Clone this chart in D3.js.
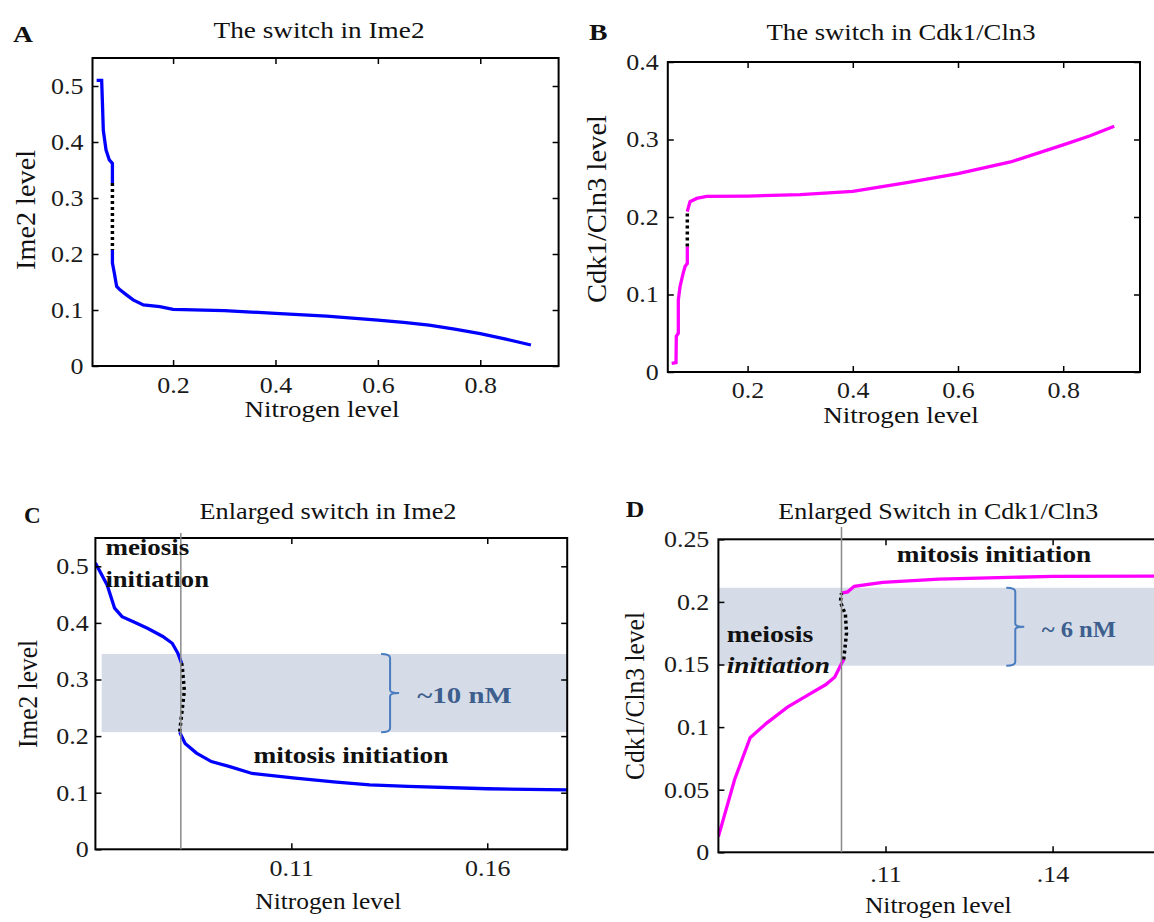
<!DOCTYPE html>
<html>
<head>
<meta charset="utf-8">
<style>
    body {
        margin: 0;
        background: white;
    }

    svg {
        display: block;
        font-family: 'Liberation Serif', 'Times New Roman', serif;
    }
</style>
</head>
<body>
<svg width="1154" height="922"></svg>

<script src="https://d3js.org/d3.v7.min.js"></script>
<script>
    // ---- data: [nitrogen, level] ----
    // A: Ime2 vs nitrogen, full range
    const ime2Meiosis = [[0.0507, 0.51], [0.0605, 0.51], [0.062, 0.47], [0.0637, 0.421], [0.069, 0.386],
        [0.0754, 0.368], [0.0815, 0.362], [0.0815, 0.327]];
    const ime2Gap = [[0.0815, 0.327], [0.0815, 0.207]];
    const ime2Mitosis = [[0.0815, 0.207], [0.0815, 0.184], [0.0852, 0.166], [0.0898, 0.142], [0.0963, 0.136],
        [0.109, 0.127], [0.122, 0.118], [0.142, 0.109], [0.174, 0.106], [0.2, 0.101], [0.3, 0.099],
        [0.4, 0.094], [0.5, 0.089], [0.6, 0.082], [0.65, 0.078], [0.7, 0.073], [0.75, 0.066],
        [0.8, 0.058], [0.85, 0.048], [0.899, 0.0375]];

    // B: Cdk1/Cln3 vs nitrogen, full range
    const cdkMeiosis = [[0.0557, 0.011], [0.0639, 0.012], [0.0645, 0.046], [0.0683, 0.05], [0.0683, 0.093],
        [0.0715, 0.11], [0.0766, 0.125], [0.081, 0.136], [0.0854, 0.14], [0.0854, 0.162]];
    const cdkGap = [[0.0854, 0.162], [0.0854, 0.207]];
    const cdkMitosis = [[0.0854, 0.207], [0.0873, 0.212], [0.0905, 0.2197], [0.1032, 0.224], [0.122, 0.2265],
        [0.2, 0.227], [0.3, 0.229], [0.4, 0.233], [0.5, 0.244], [0.6, 0.256], [0.7, 0.271],
        [0.8, 0.293], [0.85, 0.3045], [0.897, 0.317]];

    // C: enlarged Ime2 switch
    const ime2ZoomMeiosis = [[0.06, 0.506], [0.063, 0.467], [0.0649, 0.426], [0.0668, 0.411], [0.0697, 0.402],
        [0.0734, 0.39], [0.0772, 0.376], [0.0796, 0.364], [0.081, 0.347], [0.082, 0.329]];
    const ime2ZoomGap = [[0.082, 0.329], [0.0822, 0.32], [0.0827, 0.28], [0.0822, 0.25], [0.0815, 0.207]];
    const ime2ZoomMitosis = [[0.0815, 0.207], [0.0829, 0.187], [0.0858, 0.17], [0.0896, 0.155], [0.0943, 0.146],
        [0.1, 0.134], [0.1104, 0.126], [0.1208, 0.119], [0.13, 0.114], [0.1398, 0.111], [0.16, 0.107],
        [0.1805, 0.105]];

    // D: enlarged Cdk1/Cln3 switch
    const cdkZoomMeiosis = [[0.08, 0.0125], [0.0829, 0.058], [0.0857, 0.0915], [0.0886, 0.103], [0.0924, 0.116],
        [0.0962, 0.126], [0.0993, 0.134], [0.1009, 0.14], [0.1019, 0.149], [0.1025, 0.154]];
    const cdkZoomGap = [[0.1025, 0.154], [0.103, 0.175], [0.1028, 0.19], [0.1019, 0.2], [0.1021, 0.207]];
    const cdkZoomMitosis = [[0.1021, 0.207], [0.1032, 0.208], [0.1044, 0.2125], [0.1095, 0.2156],
        [0.1196, 0.2182], [0.14, 0.2204], [0.17, 0.2208]];

    // switch bands (level range) and switch point (nitrogen)
    const bandC = [0.207, 0.345];
    const bandD = [0.149, 0.2113];
    const switchC = 0.0818;
    const switchD = 0.1021;

    // ticks
    const fullXTicks = [0.2, 0.4, 0.6, 0.8];
    const ime2YTicks = [0, 0.1, 0.2, 0.3, 0.4, 0.5];
    const cdkYTicks = [0, 0.1, 0.2, 0.3, 0.4];
    const zoomCXTicks = [0.11, 0.16];
    const zoomDXTicks = [0.11, 0.14];
    const zoomDYTicks = [0, 0.05, 0.1, 0.15, 0.2, 0.25];

    const SX = 1.13;   // the figure's text is a bit wider than Times
    const svg = d3.select("svg");

    function label(g, x, y, str, opt) {
        let t = g.append("text")
            .attr("x", x)
            .attr("y", y)
            .attr("text-anchor", opt.anchor || "start")
            .attr("font-size", opt.size || 24)
            .attr("fill", opt.fill || "#111")
            .text(str);
        if (opt.bold) t.attr("font-weight", "bold");
        if (opt.italic) t.attr("font-style", "italic");
        if (opt.len) t.attr("textLength", opt.len).attr("lengthAdjust", "spacingAndGlyphs");
        return t;
    }

    function yLabel(g, x, y, str, len) {
        g.append("text")
            .attr("transform", `translate(${x},${y}) rotate(-90)`)
            .attr("text-anchor", "middle")
            .attr("font-size", 27)
            .attr("fill", "#111")
            .attr("textLength", len)
            .attr("lengthAdjust", "spacingAndGlyphs")
            .text(str);
    }

    function panel(o) {
        const x = d3.scaleLinear().domain(o.xDomain).range([o.left, o.right]);
        const y = d3.scaleLinear().domain(o.yDomain).range([o.bottom, o.top]);
        const g = svg.append("g");
        const clipId = "clip-" + o.id;
        g.append("clipPath").attr("id", clipId)
            .append("rect")
            .attr("x", o.left).attr("y", o.top)
            .attr("width", o.right - o.left).attr("height", o.bottom - o.top);
        const plot = g.append("g").attr("clip-path", `url(#${clipId})`);
        return { g, plot, x, y, o };
    }

    function axes(p, xt, yt, xfmt, yfmt, padX, padY) {
        const { g, x, y, o } = p;
        let ax = [
            g.append("g").attr("transform", `translate(0,${o.bottom})`)
                .call(d3.axisBottom(x).tickValues(xt).tickSize(-6).tickPadding(padX).tickFormat(xfmt)),
            g.append("g").attr("transform", `translate(0,${o.top})`)
                .call(d3.axisTop(x).tickValues(xt).tickSize(-6).tickFormat("")),
            g.append("g").attr("transform", `translate(${o.left},0)`)
                .call(d3.axisLeft(y).tickValues(yt).tickSize(-6).tickPadding(padY).tickFormat(yfmt)),
            g.append("g").attr("transform", `translate(${o.right},0)`)
                .call(d3.axisRight(y).tickValues(yt).tickSize(-6).tickFormat(""))
        ];
        ax.forEach(a => {
            a.select(".domain").remove();
            a.attr("font-family", null).attr("font-size", 23);
            a.selectAll("line").attr("stroke", "#000").attr("stroke-width", 1.5);
            a.selectAll("text").attr("fill", "#1a1a1a").attr("transform", `scale(${SX},1)`);
        });
        g.append("rect")
            .attr("x", o.left).attr("y", o.top)
            .attr("width", o.right - o.left).attr("height", o.bottom - o.top)
            .attr("fill", "none").attr("stroke", "#000").attr("stroke-width", 2);
    }

    function curve(p, pts, color, dotted) {
        const line = d3.line().x(d => p.x(d[0])).y(d => p.y(d[1]));
        p.plot.append("path")
            .datum(pts)
            .attr("d", line)
            .attr("fill", "none")
            .attr("stroke", color)
            .attr("stroke-width", dotted ? 3.5 : 3.3)
            .attr("stroke-dasharray", dotted ? "3 3" : null)
            .attr("stroke-linejoin", "miter");
    }

    function band(p, x0, x1, range) {
        p.plot.append("rect")
            .attr("x", p.x(x0)).attr("y", p.y(range[1]))
            .attr("width", p.x(x1) - p.x(x0))
            .attr("height", p.y(range[0]) - p.y(range[1]))
            .attr("fill", "#d5dce7");
    }

    function brace(p, xv, range) {
        const bx = p.x(xv), top = p.y(range[1]), bot = p.y(range[0]), mid = (top + bot) / 2;
        p.g.append("path")
            .attr("d", `M${bx - 9},${top} Q${bx},${top} ${bx},${top + 4} V${mid - 3} Q${bx},${mid} ${bx + 9},${mid}` +
                ` M${bx + 9},${mid} Q${bx},${mid} ${bx},${mid + 3} V${bot - 4} Q${bx},${bot} ${bx - 9},${bot}`)
            .attr("fill", "none")
            .attr("stroke", "#4a7cc0")
            .attr("stroke-width", 2);
    }

    function switchLine(p, xv, yTop) {
        p.g.append("line")
            .attr("x1", p.x(xv)).attr("x2", p.x(xv))
            .attr("y1", yTop).attr("y2", p.o.bottom)
            .attr("stroke", "#8a8a8a").attr("stroke-width", 1.5);
    }

    const num = d => d === 0 ? "0" : String(d);

    // ---------- A ----------
    const pA = panel({ id: "a", left: 92.5, right: 558.6, top: 58, bottom: 366, xDomain: [0.0426, 0.953], yDomain: [0, 0.55] });
    curve(pA, ime2Meiosis, "#0000ff");
    curve(pA, ime2Mitosis, "#0000ff");
    curve(pA, ime2Gap, "#000", true);
    axes(pA, fullXTicks, ime2YTicks, num, num, 10.5, 8);
    label(pA.g, 13, 41.7, "A", { bold: true, len: 20 });
    label(pA.g, 319, 38, "The switch in Ime2", { anchor: "middle", len: 211 });
    label(pA.g, 322, 416.7, "Nitrogen level", { anchor: "middle", len: 155 });
    yLabel(pA.g, 35, 210, "Ime2 level", 120);

    // ---------- B ----------
    const pB = panel({ id: "b", left: 667.8, right: 1140, top: 62, bottom: 372, xDomain: [0.0483, 0.946], yDomain: [0, 0.4] });
    curve(pB, cdkMeiosis, "#ff00ff");
    curve(pB, cdkMitosis, "#ff00ff");
    curve(pB, cdkGap, "#000", true);
    axes(pB, fullXTicks, cdkYTicks, num, num, 10, 8);
    label(pB.g, 589, 40, "B", { bold: true, len: 18.5 });
    label(pB.g, 901, 39.5, "The switch in Cdk1/Cln3", { anchor: "middle", len: 269 });
    label(pB.g, 901, 423, "Nitrogen level", { anchor: "middle", len: 155.5 });
    yLabel(pB.g, 606, 209, "Cdk1/Cln3 level", 188);

    // ---------- C ----------
    const pC = panel({ id: "c", left: 95.4, right: 567.2, top: 538, bottom: 849.3, xDomain: [0.06, 0.1804], yDomain: [0, 0.55] });
    band(pC, 0.0616, 0.1804, bandC);
    curve(pC, ime2ZoomMeiosis, "#0000ff");
    curve(pC, ime2ZoomMitosis, "#0000ff");
    curve(pC, ime2ZoomGap, "#000", true);
    axes(pC, zoomCXTicks, ime2YTicks, num, num, 10.5, 6);
    switchLine(pC, switchC, 533);
    brace(pC, 0.1352, bandC);
    label(pC.g, 24, 523.3, "C", { bold: true, len: 16.7 });
    label(pC.g, 328, 519, "Enlarged switch in Ime2", { anchor: "middle", len: 257 });
    label(pC.g, 328.3, 909, "Nitrogen level", { anchor: "middle", len: 146 });
    yLabel(pC.g, 37, 694, "Ime2 level", 108);
    label(pC.g, 105.4, 555, "meiosis", { bold: true, len: 84, fill: "#111" });
    label(pC.g, 105.4, 586.7, "initiation", { bold: true, len: 103.6, fill: "#111" });
    label(pC.g, 253.4, 762.7, "mitosis initiation", { bold: true, len: 195, fill: "#111" });
    label(pC.g, 417.3, 702.7, "~10  nM", { bold: true, len: 94.4, fill: "#3d5f8e" });

    // ---------- D ----------
    const pD = panel({ id: "d", left: 718.4, right: 1219.7, top: 539.3, bottom: 852.3, xDomain: [0.08, 0.17], yDomain: [0, 0.25] });
    band(pD, 0.0797, 0.17, bandD);
    curve(pD, cdkZoomMeiosis, "#ff00ff");
    curve(pD, cdkZoomMitosis, "#ff00ff");
    curve(pD, cdkZoomGap, "#000", true);
    axes(pD, zoomDXTicks, zoomDYTicks, d => String(d).replace(/^0/, ""), num, 13, 8);
    switchLine(pD, switchD, 527);
    brace(pD, 0.1333, bandD);
    label(pD.g, 625.7, 516.7, "D", { bold: true, len: 18.6 });
    label(pD.g, 938.3, 518.5, "Enlarged Switch in Cdk1/Cln3", { anchor: "middle", len: 320 });
    label(pD.g, 938.3, 913, "Nitrogen level", { anchor: "middle", len: 146.7 });
    yLabel(pD.g, 644, 696, "Cdk1/Cln3 level", 168);
    label(pD.g, 896.8, 561.7, "mitosis initiation", { bold: true, len: 194.4, fill: "#111" });
    label(pD.g, 726.7, 641.7, "meiosis", { bold: true, len: 86.7, fill: "#111" });
    label(pD.g, 726.7, 673.3, "initiation", { bold: true, italic: true, len: 103.3, fill: "#111" });
    label(pD.g, 1041.7, 636.7, "~ 6 nM", { bold: true, len: 74.3, fill: "#3d5f8e" });
</script>
</body>
</html>
